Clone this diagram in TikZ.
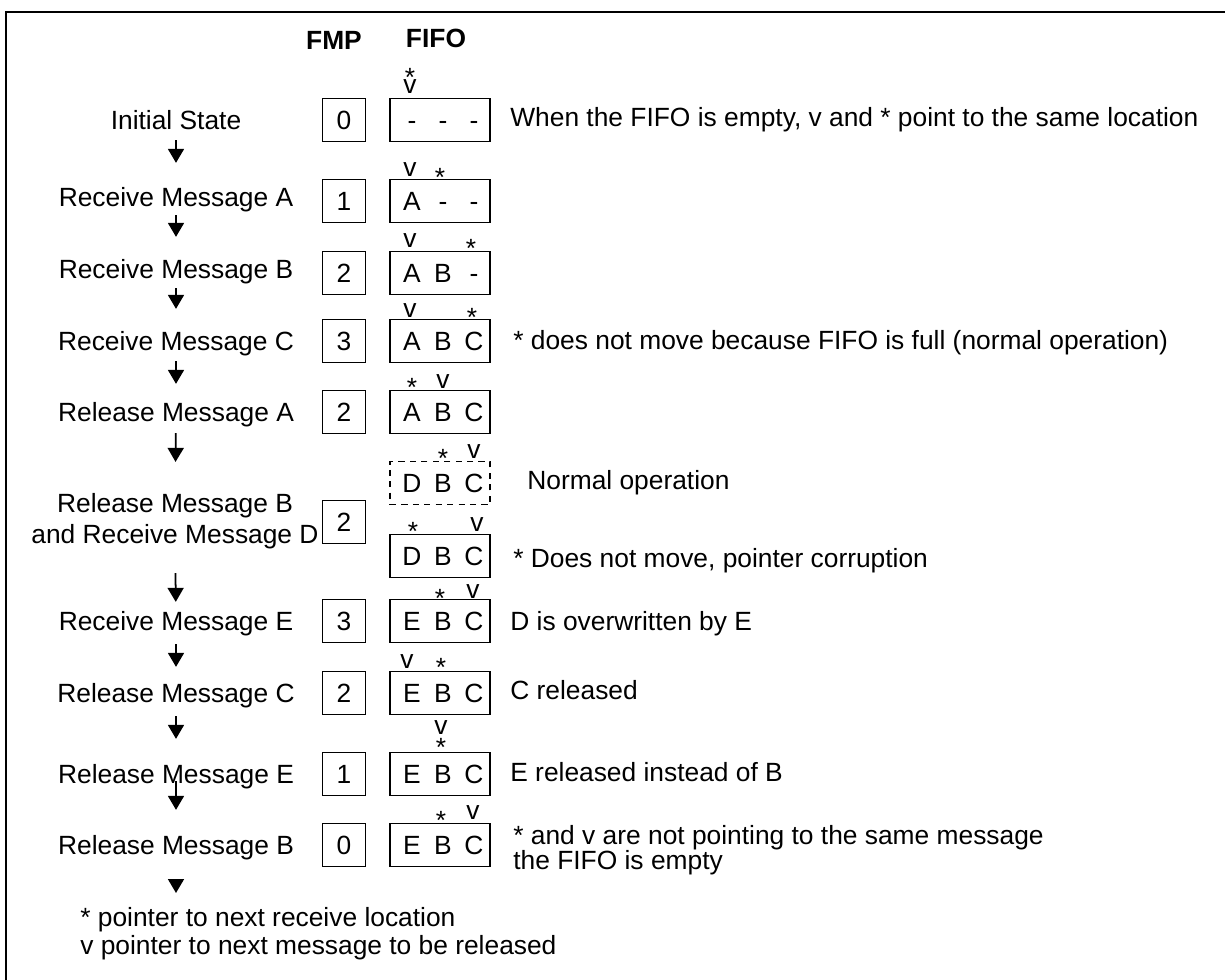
\documentclass[tikz,border=0pt]{standalone}
\usepackage{fontspec}
\setmainfont{Liberation Sans}
\usetikzlibrary{arrows.meta,positioning}

% one FIFO: box plus its three slots
\newcommand{\fifobox}[6]{%
  \node[#6] (#1) at (440,#2) {};
  \node[slot] (#1a) at (412,#2) {#3};
  \node[slot] (#1b) at (443,#2) {#4};
  \node[slot] (#1c) at (474,#2) {#5};
}

\begin{document}
\begin{tikzpicture}[x=0.02cm,y=-0.02cm,
    txt/.style={font=\fontsize{15}{17.6}\selectfont,inner sep=0pt},
    state/.style={txt,align=center},
    line/.style={state,text height=11pt,text depth=3pt},
    note/.style={txt,anchor=west,text height=11pt,text depth=3pt},
    head/.style={txt,font=\fontsize{15}{17.6}\selectfont\bfseries},
    slot/.style={txt,text height=10.8pt,text depth=0pt},
    ptrv/.style={txt},
    ptrs/.style={txt,yshift=-3.3pt},
    fmp/.style={rectangle,draw,line width=1pt,minimum width=0.86cm,minimum height=0.86cm,inner sep=0pt,font=\fontsize{15}{17.6}\selectfont},
    fifo/.style={rectangle,draw,line width=1pt,minimum width=2cm,minimum height=0.86cm,inner sep=0pt},
    fifod/.style={fifo,dash pattern=on 3.5pt off 3pt},
    arr/.style={-{Triangle[length=0.28cm,width=0.32cm]},line width=1pt},
]
\useasboundingbox (0,0) rectangle (1225,980);
\draw[line width=1.6pt] (6,980) -- (6,12) -- (1226,12);

% column heads
\node[head] (hfmp) at (334,40) {FMP};
\node[head] (hfifo) at (436,38) {FIFO};

% states
\node[line] (s1) at (176,122.5) {Initial State};
\node[line] (s2) at (176,199.5) {Receive Message A};
\node[line] (s3) at (176,271.5) {Receive Message B};
\node[line] (s4) at (176,343.5) {Receive Message C};
\node[line] (s5) at (176,414.5) {Release Message A};
\node[state] (s6) at (175,521) {Release Message B\\and Receive Message D};
\node[line] (s7) at (176,623.5) {Receive Message E};
\node[line] (s8) at (176,695.5) {Release Message C};
\node[line] (s9) at (176,776.5) {Release Message E};
\node[line] (s10) at (176,847.5) {Release Message B};
\coordinate (end) at (176,893);

% FMP counter
\node[fmp] (f1) at (344,120) {0};
\node[fmp] (f2) at (344,201) {1};
\node[fmp] (f3) at (344,273) {2};
\node[fmp] (f4) at (344,341) {3};
\node[fmp] (f5) at (344,412) {2};
\node[fmp] (f6) at (344,522) {2};
\node[fmp] (f7) at (344,621) {3};
\node[fmp] (f8) at (344,693) {2};
\node[fmp] (f9) at (344,774) {1};
\node[fmp] (f10) at (344,845) {0};

% FIFO contents
\fifobox{q1}{120}{-}{-}{-}{fifo}
\fifobox{q2}{201}{A}{-}{-}{fifo}
\fifobox{q3}{273}{A}{B}{-}{fifo}
\fifobox{q4}{341}{A}{B}{C}{fifo}
\fifobox{q5}{412}{A}{B}{C}{fifo}
\fifobox{q6n}{483}{D}{B}{C}{fifod}
\fifobox{q6}{556}{D}{B}{C}{fifo}
\fifobox{q7}{621}{E}{B}{C}{fifo}
\fifobox{q8}{693}{E}{B}{C}{fifo}
\fifobox{q9}{774}{E}{B}{C}{fifo}
\fifobox{q10}{845}{E}{B}{C}{fifo}

% pointers
\node[ptrs] (p1s) at (410,72) {*};
\node[ptrv] (p1v) at (410,87) {v};
\node[ptrv] (p2v) at (410,170) {v};
\node[ptrs] (p2s) at (440,172) {*};
\node[ptrv] (p3v) at (410,241) {v};
\node[ptrs] (p3s) at (471,243) {*};
\node[ptrv] (p4v) at (410,311) {v};
\node[ptrs] (p4s) at (472,312) {*};
\node[ptrs] (p5s) at (412,382) {*};
\node[ptrv] (p5v) at (443,382) {v};
\node[ptrs] (p6ns) at (443,453) {*};
\node[ptrv] (p6nv) at (474,452) {v};
\node[ptrs] (p6s) at (413,526) {*};
\node[ptrv] (p6v) at (477,525) {v};
\node[ptrs] (p7s) at (440,593) {*};
\node[ptrv] (p7v) at (473,592) {v};
\node[ptrv] (p8v) at (407,662) {v};
\node[ptrs] (p8s) at (441,662) {*};
\node[ptrv] (p9v) at (441,728) {v};
\node[ptrs] (p9s) at (441,742) {*};
\node[ptrs] (p10s) at (441,815) {*};
\node[ptrv] (p10v) at (473,813) {v};

% remarks
\node[note] (n1) at (510,119.5) {When the FIFO is empty, v and * point to the same location};
\node[note] (n4) at (513,342.5) {* does not move because FIFO is full (normal operation)};
\node[note] (n6n) at (527,482.5) {Normal operation};
\node[note] (n6) at (513,560.5) {* Does not move, pointer corruption};
\node[note] (n7) at (510,623.5) {D is overwritten by E};
\node[note] (n8) at (510,692.5) {C released};
\node[note] (n9) at (510,774.5) {E released instead of B};
\node[note] (n10) at (513,837.5) {* and v are not pointing to the same message};
\node[note] (n10b) at (513,862.5) {the FIFO is empty};

% legend
\node[note] (k1) at (80,919.5) {* pointer to next receive location};
\node[note] (k2) at (80,947.5) {v pointer to next message to be released};

\draw[arr,shorten <=0.1cm,shorten >=0.48cm] (s1) -- (s2);
\draw[arr,shorten <=0.06cm,shorten >=0.44cm] (s2) -- (s3);
\draw[arr,shorten <=0.08cm,shorten >=0.44cm] (s3) -- (s4);
\draw[arr,shorten <=0.1cm,shorten >=0.36cm] (s4) -- (s5);
\draw[arr,shorten <=0.12cm,shorten >=0.62cm] (s5) -- (s6);
\draw[arr,shorten <=0.48cm,shorten >=0.18cm] (s6) -- (s7);
\draw[arr,shorten <=0.16cm,shorten >=0.32cm] (s7) -- (s8);
\draw[arr,shorten <=0.16cm,shorten >=0.5cm] (s8) -- (s9);
\draw[arr,shorten <=-0.16cm,shorten >=0.5cm] (s9) -- (s10);
\draw[arr,shorten <=0.46cm] (s10) -- (end);
\end{tikzpicture}
\end{document}
